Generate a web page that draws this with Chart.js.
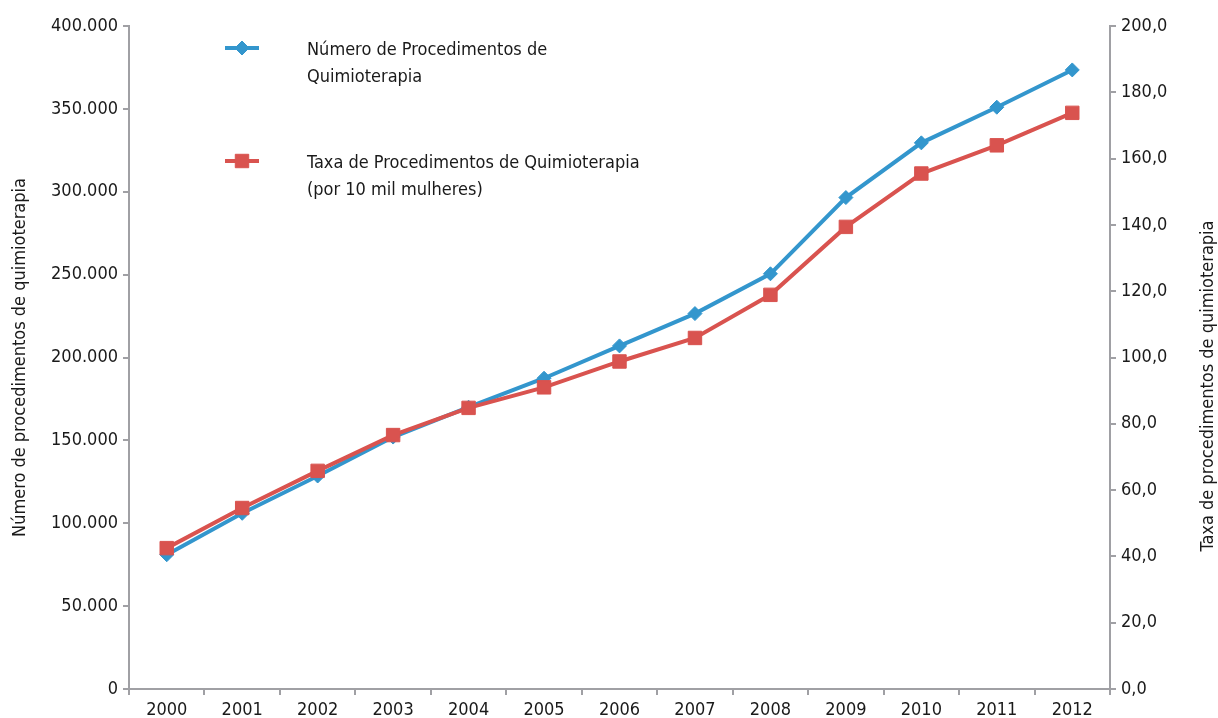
<!DOCTYPE html>
<html>
<head>
<meta charset="utf-8">
<script src="https://cdn.jsdelivr.net/npm/chart.js@4"></script>
<style>
  html, body { margin: 0; padding: 0; background: #fff; }
  #wrap { width: 1218px; height: 718px; position: relative; }
</style>
</head>
<body>
<div id="wrap"><canvas id="chart"></canvas></div>
<script>
// data
const years = ['2000','2001','2002','2003','2004','2005','2006','2007','2008','2009','2010','2011','2012'];
const numProcedimentos = [81000, 106000, 128500, 152000, 170000, 187500, 207000, 226500, 250500, 296500, 329500, 351000, 373500];
const taxaProcedimentos = [42.5, 54.6, 65.8, 76.6, 84.8, 91.0, 98.8, 105.9, 118.9, 139.4, 155.5, 164.0, 173.8];
const leftTicks = [0, 50000, 100000, 150000, 200000, 250000, 300000, 350000, 400000];
const rightTicks = [0, 20, 40, 60, 80, 100, 120, 140, 160, 180, 200];
const rightTitle = 'Taxa de procedimentos de quimioterapia';

const FONT = "'Liberation Sans Narrow', 'DejaVu Sans Condensed', 'Liberation Sans', sans-serif";
const BLUE = '#3396cd';
const RED = '#d9534f';
const AXIS = '#a0a0a4';
const TEXT = '#1a1a1a';

Chart.defaults.font.family = FONT;
Chart.defaults.font.size = 18;
Chart.defaults.color = TEXT;

// legend drawn inside the plot, top-left, like the original
// plus the right axis title, which reads bottom-to-top in the original
const extras = {
  id: 'extras',
  afterDraw(chart){
    const ctx = chart.ctx;
    const rows = [
      { ds: chart.data.datasets[1], y: 48 },
      { ds: chart.data.datasets[0], y: 161 }
    ];
    ctx.save();
    rows.forEach(r => {
      const ds = r.ds;
      ctx.strokeStyle = ds.borderColor;
      ctx.lineWidth = 4;
      ctx.beginPath(); ctx.moveTo(225, r.y); ctx.lineTo(259, r.y); ctx.stroke();
      ctx.fillStyle = ds.borderColor;
      ctx.lineWidth = 1;
      Chart.helpers.drawPoint(ctx, { pointStyle: ds.pointStyle, radius: ds.pointRadius, borderWidth: 1, rotation: 0 }, 242, r.y);
      ctx.fillStyle = TEXT;
      ctx.font = '18px ' + FONT;
      ctx.textBaseline = 'middle';
      ctx.textAlign = 'left';
      ds.legendLines.forEach((t, i) => ctx.fillText(t, 307, r.y + 2 + i * 27));
    });

    ctx.translate(1208, 386);
    ctx.rotate(-Math.PI / 2);
    ctx.textAlign = 'center';
    ctx.textBaseline = 'middle';
    ctx.fillStyle = TEXT;
    ctx.font = '18px ' + FONT;
    ctx.fillText(rightTitle, 0, 0);
    ctx.restore();
  }
};

const fmtLeft = v => v === 0 ? '0' : v.toLocaleString('de-DE');
const fmtRight = v => v.toFixed(1).replace('.', ',');

new Chart(document.getElementById('chart'), {
  type: 'line',
  data: {
    labels: years,
    datasets: [
      {
        label: 'Taxa de Procedimentos de Quimioterapia (por 10 mil mulheres)',
        legendLines: ['Taxa de Procedimentos de Quimioterapia', '(por 10 mil mulheres)'],
        data: taxaProcedimentos,
        yAxisID: 'y1',
        borderColor: RED,
        backgroundColor: RED,
        borderWidth: 4,
        pointStyle: 'rect',
        pointRadius: 9.5,
        pointBorderWidth: 1,
        tension: 0,
        order: 0
      },
      {
        label: 'Número de Procedimentos de Quimioterapia',
        legendLines: ['Número de Procedimentos de', 'Quimioterapia'],
        data: numProcedimentos,
        yAxisID: 'y',
        borderColor: BLUE,
        backgroundColor: BLUE,
        borderWidth: 4,
        pointStyle: 'rectRot',
        pointRadius: 7,
        pointBorderWidth: 1,
        tension: 0,
        order: 1
      }
    ]
  },
  options: {
    responsive: true,
    maintainAspectRatio: false,
    animation: false,
    layout: { padding: { top: 26, left: 0, right: 0, bottom: 0 } },
    plugins: { legend: { display: false }, tooltip: { enabled: false } },
    scales: {
      x: {
        offset: true,
        grid: { offset: true, drawOnChartArea: false, drawTicks: true, tickLength: 6, color: AXIS, lineWidth: 2 },
        border: { color: AXIS, width: 2 },
        ticks: { padding: 5, maxRotation: 0, color: TEXT },
        afterFit: s => { s.height = 29; }
      },
      y: {
        position: 'left',
        min: 0, max: 400000,
        afterBuildTicks: s => { s.ticks = leftTicks.map(v => ({ value: v })); },
        ticks: { callback: fmtLeft, padding: 5, color: TEXT },
        grid: { drawOnChartArea: false, drawTicks: true, tickLength: 6, color: AXIS, lineWidth: 2 },
        border: { color: AXIS, width: 2 },
        title: { display: true, text: 'Número de procedimentos de quimioterapia', padding: { top: 10, bottom: 0 }, color: TEXT },
        afterFit: s => { s.width = 129; }
      },
      y1: {
        position: 'right',
        min: 0, max: 200,
        afterBuildTicks: s => { s.ticks = rightTicks.map(v => ({ value: v })); },
        ticks: { callback: fmtRight, padding: 5, color: TEXT },
        grid: { drawOnChartArea: false, drawTicks: true, tickLength: 6, color: AXIS, lineWidth: 2 },
        border: { color: AXIS, width: 2 },
        afterFit: s => { s.width = 108; }
      }
    }
  },
  plugins: [extras]
});
</script>
</body>
</html>
